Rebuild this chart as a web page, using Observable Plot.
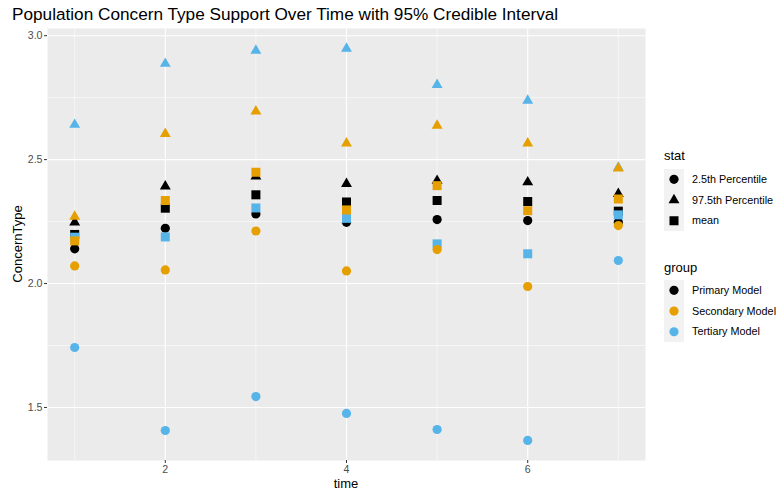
<!DOCTYPE html>
<html><head><meta charset="utf-8">
<script src="https://cdn.jsdelivr.net/npm/d3@7"></script>
<script src="https://cdn.jsdelivr.net/npm/@observablehq/plot@0.6"></script>
<style>
body{margin:0;background:#fff;font-family:"Liberation Sans",Arial,Helvetica,sans-serif;}
#wrap{position:relative;width:778px;height:493px;overflow:hidden;}
#wrap svg{position:absolute;left:0;top:0;}
.t{position:absolute;white-space:nowrap;color:#000;line-height:1;}
</style></head><body>
<div id="wrap"></div>
<script>
// ---- data ----
const times = [1, 2, 3, 4, 5, 6, 7];
const groups = ["Primary Model", "Secondary Model", "Tertiary Model"];
const stats = ["2.5th Percentile", "97.5th Percentile", "mean"];
const groupColors = ["#000000", "#E69F00", "#56B4E9"];
const xTicks = [2, 4, 6];
const xMinor = [1, 3, 5, 7];
const yTicks = [1.5, 2.0, 2.5, 3.0];
const yMinor = [1.75, 2.25, 2.75];

const primaryLow    = [2.140, 2.223, 2.281, 2.247, 2.258, 2.254, 2.247];
const primaryHigh   = [2.247, 2.392, 2.432, 2.402, 2.415, 2.409, 2.362];
const primaryMean   = [2.198, 2.304, 2.358, 2.329, 2.335, 2.331, 2.292];
const secondaryLow  = [2.071, 2.055, 2.212, 2.051, 2.137, 1.988, 2.234];
const secondaryHigh = [2.270, 2.604, 2.695, 2.566, 2.637, 2.566, 2.465];
const secondaryMean = [2.172, 2.335, 2.449, 2.297, 2.395, 2.294, 2.341];
const tertiaryLow   = [1.742, 1.407, 1.544, 1.476, 1.411, 1.367, 2.093];
const tertiaryHigh  = [2.641, 2.887, 2.940, 2.948, 2.802, 2.738, 2.468];
const tertiaryMean  = [2.187, 2.188, 2.305, 2.263, 2.160, 2.120, 2.277];

// draw order: Primary, Tertiary, Secondary (matches overlaps)
const series = [
  ["Primary Model", [primaryLow, primaryHigh, primaryMean]],
  ["Tertiary Model", [tertiaryLow, tertiaryHigh, tertiaryMean]],
  ["Secondary Model", [secondaryLow, secondaryHigh, secondaryMean]]
];
const rows = [];
for (const [group, arrs] of series) {
  arrs.forEach((arr, si) => {
    arr.forEach((v, i) => rows.push({time: times[i], value: v, group, stat: stats[si]}));
  });
}

// ggplot-like filled symbols
const symSquare = {draw(c, size) { const r = Math.sqrt(size / Math.PI); const s = r * 0.98; c.moveTo(-s, -s); c.lineTo(s, -s); c.lineTo(s, s); c.lineTo(-s, s); c.closePath(); }};
const symTriangle = {draw(c, size) { const r = Math.sqrt(size / Math.PI); const h = r * 2.05; const w = h / Math.sqrt(3); c.moveTo(0, -2 * h / 3); c.lineTo(w, h / 3); c.lineTo(-w, h / 3); c.closePath(); }};
const symbolRange = ["circle", symTriangle, symSquare];

const font = '"Liberation Sans", Arial, Helvetica, sans-serif';

const chart = Plot.plot({
  width: 778, height: 493,
  marginLeft: 47, marginRight: 133, marginTop: 28, marginBottom: 33,
  style: {fontFamily: font, fontSize: "10.6px", background: "transparent", color: "#4D4D4D"},
  x: {domain: [0.7, 7.3], label: null},
  y: {domain: [1.286, 3.029], label: null},
  color: {domain: groups, range: groupColors},
  symbol: {domain: stats, range: symbolRange},
  marks: [
    Plot.frame({fill: "#EBEBEB", stroke: "none"}),
    Plot.gridX(xMinor, {stroke: "#ffffff", strokeOpacity: 1, strokeWidth: 0.55}),
    Plot.gridY(yMinor, {stroke: "#ffffff", strokeOpacity: 1, strokeWidth: 0.55}),
    Plot.gridX(xTicks, {stroke: "#ffffff", strokeOpacity: 1, strokeWidth: 1.1}),
    Plot.gridY(yTicks, {stroke: "#ffffff", strokeOpacity: 1, strokeWidth: 1.1}),
    Plot.axisX(xTicks, {tickSize: 3, tickPadding: 2, stroke: "#333333", fill: "#4D4D4D", label: null}),
    Plot.axisY(yTicks, {tickSize: 3, tickPadding: 2, stroke: "#333333", fill: "#4D4D4D", label: null, tickFormat: d3.format(".1f")}),
    Plot.dot(rows, {x: "time", y: "value", fill: "group", symbol: "stat", r: 4.6, stroke: "none"})
  ]
});

const wrap = document.getElementById("wrap");
wrap.appendChild(chart);

function addText(txt, left, top, size, extra) {
  const d = document.createElement("div");
  d.className = "t";
  d.textContent = txt;
  d.style.left = left + "px";
  d.style.top = top + "px";
  d.style.fontSize = size + "px";
  if (extra) Object.assign(d.style, extra);
  wrap.appendChild(d);
  return d;
}

// title
addText("Population Concern Type Support Over Time with 95% Credible Interval", 12, 6, 17.2);
// axis titles
addText("time", 0, 477, 13, {width: "692px", textAlign: "center"});
addText("ConcernType", 17, 244, 13, {transform: "translate(-50%,-50%) rotate(-90deg)", transformOrigin: "center"});

// legends
const ns = "http://www.w3.org/2000/svg";
const lsvg = document.createElementNS(ns, "svg");
lsvg.setAttribute("width", 778); lsvg.setAttribute("height", 493);
lsvg.style.pointerEvents = "none";
wrap.appendChild(lsvg);
function symPath(sym, r) {
  const size = Math.PI * r * r;
  const p = d3.path();
  if (sym === "circle") { p.moveTo(r, 0); p.arc(0, 0, r, 0, 2 * Math.PI); }
  else sym.draw(p, size);
  return p.toString();
}
function legend(title, titleY, keyTop, labels, syms, colors) {
  addText(title, 664, titleY - 6.5, 13);
  const kh = 20.7;
  const bg = document.createElementNS(ns, "rect");
  bg.setAttribute("x", 664); bg.setAttribute("y", keyTop);
  bg.setAttribute("width", 20); bg.setAttribute("height", kh * labels.length);
  bg.setAttribute("fill", "#F2F2F2");
  lsvg.appendChild(bg);
  labels.forEach((lab, i) => {
    const cy = keyTop + kh * (i + 0.5);
    const path = document.createElementNS(ns, "path");
    path.setAttribute("d", symPath(syms[i], 4.6));
    path.setAttribute("transform", `translate(674,${cy})`);
    path.setAttribute("fill", colors[i]);
    lsvg.appendChild(path);
    addText(lab, 692, cy - 5.5, 10.8);
  });
}
legend("stat", 155, 169, stats, symbolRange, ["#000", "#000", "#000"]);
legend("group", 267, 280, groups, ["circle", "circle", "circle"], groupColors);
</script>
</body></html>
